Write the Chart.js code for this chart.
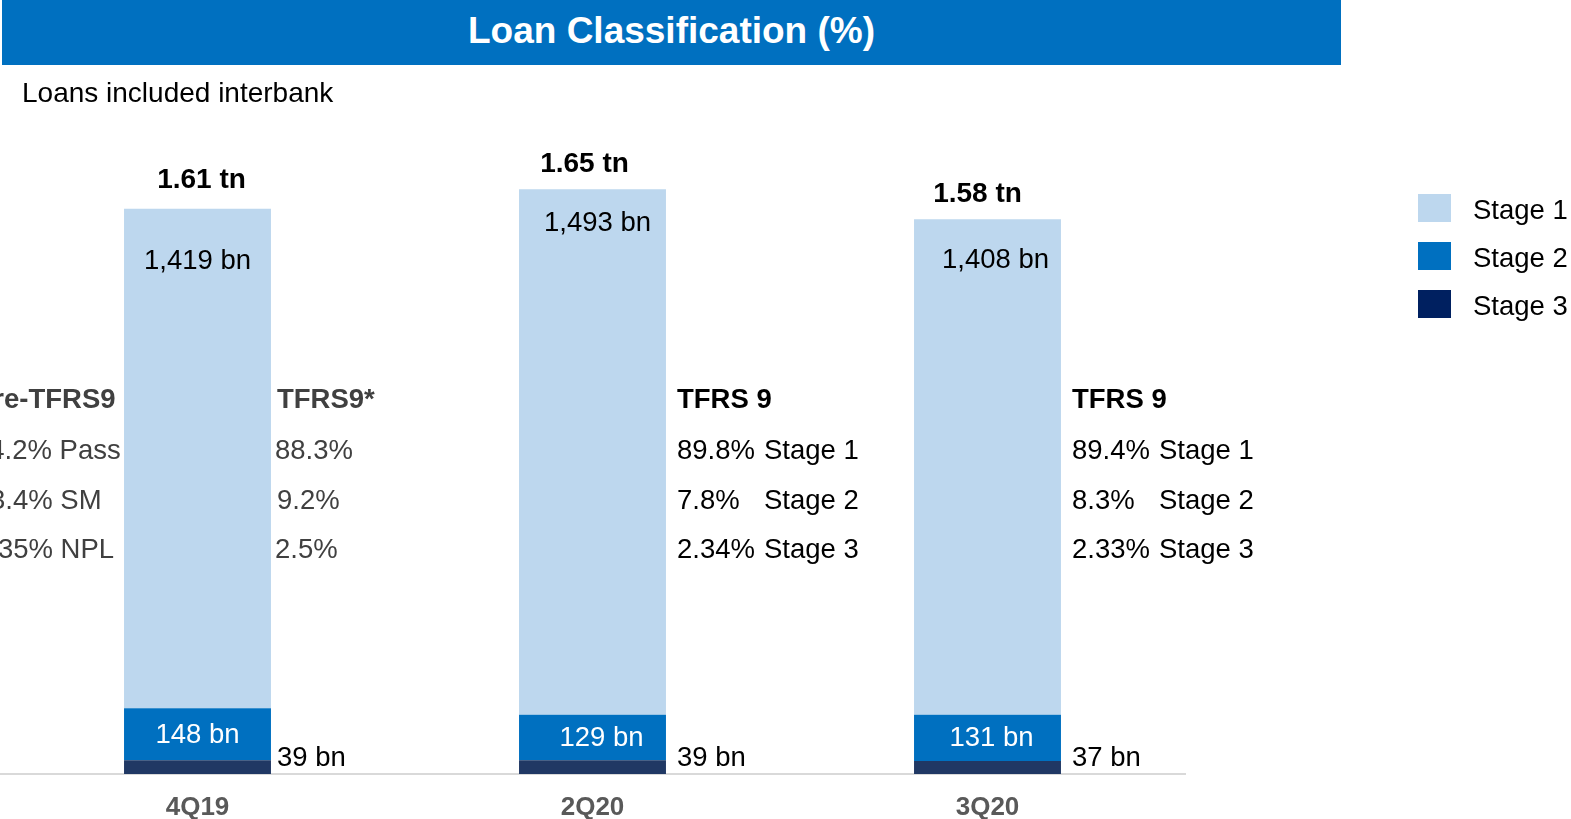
<!DOCTYPE html>
<html>
<head>
<meta charset="utf-8">
<script src="https://cdn.jsdelivr.net/npm/chart.js@4.4.1/dist/chart.umd.min.js"></script>
<style>
  html, body { margin:0; padding:0; background:#fff; overflow:hidden; }
  body { width:1571px; height:819px; position:relative; font-family:"Liberation Sans", Arial, sans-serif; }
  #hdr { position:absolute; left:2px; top:0; width:1339px; height:65px; background:#0070C0; color:#fff;
         font-weight:bold; font-size:37px; line-height:61px; text-align:center; z-index:2; }
  #sub { position:absolute; left:22px; top:77px; font-size:28px; color:#000; z-index:2; }
  #wrap { position:absolute; left:0; top:0; width:1571px; height:819px; }
</style>
</head>
<body>
<div id="hdr">Loan Classification (%)</div>
<div id="sub">Loans included interbank</div>
<div id="wrap"><canvas id="c" width="1571" height="819"></canvas></div>
<script>
// 数据
const categories = ['4Q19', '2Q20', '3Q20'];
const stage1 = [1419, 1493, 1408];   // bn
const stage2 = [148, 129, 131];
const stage3 = [39, 39, 37];
const totals = ['1.61 tn', '1.65 tn', '1.58 tn'];
const ratioTitles = ['TFRS9*', 'TFRS 9', 'TFRS 9'];
const stage1Pct = ['88.3%', '89.8%', '89.4%'];
const stage2Pct = ['9.2%', '7.8%', '8.3%'];
const stage3Pct = ['2.5%', '2.34%', '2.33%'];
const preTitle = 'Pre-TFRS9';
const preLines = ['94.2% Pass', '3.4% SM', '2.35% NPL'];
const stageNames = ['Stage 1', 'Stage 2', 'Stage 3'];

const C1 = '#BDD7EE', C2 = '#0070C0', C3 = '#203864';
const LEGEND_COLORS = [C1, C2, '#002060'];
const FONT = '"Liberation Sans", Arial, sans-serif';
// 标签微调 (样式)
const totDx = [4, -8, -10], totDy = [-28, -25, -25];
const s1Dx = [0, 5, 8], s1Dy = [53, 34, 41];
const s2Dx = [0, 9, 4];

function fmt(v) { return v.toLocaleString('en-US') + ' bn'; }

const annot = {
    id: 'annot',
    afterDatasetsDraw(chart) {
        const ctx = chart.ctx;
        const m3 = chart.getDatasetMeta(0).data;
        const m2 = chart.getDatasetMeta(1).data;
        const m1 = chart.getDatasetMeta(2).data;
        ctx.save();
        ctx.textBaseline = 'middle';

        categories.forEach((c, i) => {
            const b1 = m1[i], b2 = m2[i], b3 = m3[i];
            const right = b1.x + b1.width / 2;
            const bx = right + (i === 0 ? 6 : 11);

            // total
            ctx.fillStyle = '#000';
            ctx.textAlign = 'center';
            ctx.font = 'bold 28px ' + FONT;
            ctx.fillText(totals[i], b1.x + totDx[i], b1.y + totDy[i]);

            // stage 1 / 2 labels
            ctx.font = '27.5px ' + FONT;
            ctx.fillText(fmt(stage1[i]), b1.x + s1Dx[i], b1.y + s1Dy[i]);
            ctx.fillStyle = '#fff';
            ctx.fillText(fmt(stage2[i]), b2.x + s2Dx[i], (b2.y + b2.base) / 2 + 1);

            // stage 3 label (outside)
            ctx.fillStyle = '#000';
            ctx.textAlign = 'left';
            ctx.fillText(fmt(stage3[i]), bx, b3.base - 16);

            // ratio block
            ctx.fillStyle = i === 0 ? '#404040' : '#000';
            ctx.font = 'bold 27.5px ' + FONT;
            ctx.fillText(ratioTitles[i], bx, 400);
            ctx.font = '27.5px ' + FONT;
            const pcts = [stage1Pct[i], stage2Pct[i], stage3Pct[i]];
            const ys = [451, 501, 550];
            pcts.forEach((p, k) => {
                ctx.fillText(p, bx - (i === 0 && k !== 1 ? 2 : 0), ys[k]);
                if (i > 0) ctx.fillText(stageNames[k], bx + 87, ys[k]);
            });
        });

        // pre-TFRS9 block (cut at left edge)
        ctx.fillStyle = '#404040';
        ctx.textAlign = 'left';
        ctx.font = 'bold 27.5px ' + FONT;
        ctx.fillText(preTitle, -25, 400);
        ctx.font = '27.5px ' + FONT;
        ctx.fillText(preLines[0], -26, 451);
        ctx.fillText(preLines[1], -10, 501);
        ctx.fillText(preLines[2], -25, 550);

        // legend
        stageNames.forEach((n, k) => {
            const y = 194 + k * 48;
            ctx.fillStyle = LEGEND_COLORS[k];
            ctx.fillRect(1418, y, 33, 28);
            ctx.fillStyle = '#000';
            ctx.fillText(n, 1473, y + 17);
        });
        ctx.restore();
    }
};

new Chart(document.getElementById('c'), {
    type: 'bar',
    data: {
        labels: categories,
        datasets: [
            { label: 'Stage 3', data: stage3, backgroundColor: C3 },
            { label: 'Stage 2', data: stage2, backgroundColor: C2 },
            { label: 'Stage 1', data: stage1, backgroundColor: C1 }
        ]
    },
    options: {
        responsive: false,
        animation: false,
        events: [],
        barPercentage: 0.372,
        categoryPercentage: 1,
        layout: { padding: { left: 0, right: 386, top: 70, bottom: 0 } },
        plugins: { legend: { display: false }, tooltip: { enabled: false } },
        scales: {
            x: {
                stacked: true,
                grid: { display: false, drawTicks: false },
                border: { display: true, color: '#D9D9D9', width: 2 },
                ticks: { color: '#595959', font: { family: FONT, size: 26, weight: 'bold' }, padding: 18 },
                afterFit(scale) { scale.height = 45; }
            },
            y: { stacked: true, display: false, min: 0, max: 2000 }
        }
    },
    plugins: [annot]
});
</script>
</body>
</html>
